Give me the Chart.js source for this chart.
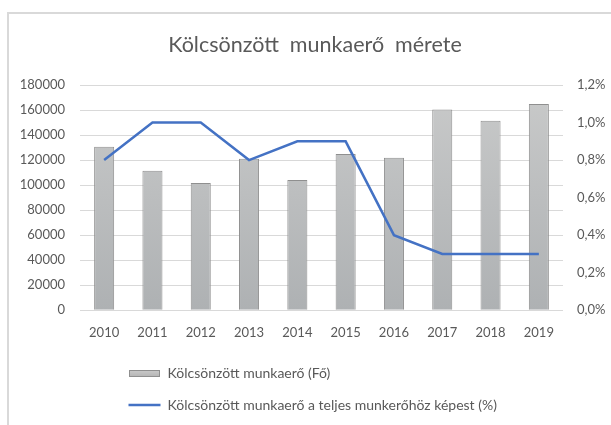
<!DOCTYPE html>
<html>
<head>
<meta charset="utf-8">
<script src="https://cdn.jsdelivr.net/npm/chart.js@4/dist/chart.umd.min.js"></script>
<style>
  body { margin: 0; background: #fff; }
  #wrap { position: relative; width: 611px; height: 425px; overflow: hidden; }
  #frame { position: absolute; left: 7px; top: 12px; width: 700px; height: 500px;
           border-left: 2px solid #d9d9d9; border-top: 2px solid #d9d9d9; }
  #chart { position: absolute; left: 0; top: 0; }
</style>
</head>
<body>
<div id="wrap">
  <div id="frame"></div>
  <canvas id="chart" width="611" height="425"></canvas>
</div>
<script>
// values
var years = ['2010', '2011', '2012', '2013', '2014', '2015', '2016', '2017', '2018', '2019'];
var workers = [130600, 111400, 101600, 121000, 104000, 124800, 121800, 160500, 151400, 164800];
var share = [0.8, 1.0, 1.0, 0.8, 0.9, 0.9, 0.4, 0.3, 0.3, 0.3];

var chartTitle = 'Kölcsönzött  munkaerő  mérete';
var barLabel = 'Kölcsönzött munkaerő (Fő)';
var lineLabel = 'Kölcsönzött munkaerő a teljes munkerőhöz képest (%)';

var textColor = '#595959';
var gridColor = '#d9d9d9';
var lineColor = '#4472c4';

// little gray swatch for the bar legend entry
var swatch = document.createElement('canvas');
swatch.width = 31;
swatch.height = 7;
var sctx = swatch.getContext('2d');
var sg = sctx.createLinearGradient(0, 0, 0, 7);
sg.addColorStop(0, '#cacaca');
sg.addColorStop(1, '#b4b4b4');
sctx.fillStyle = sg;
sctx.fillRect(0, 0, 31, 7);
sctx.strokeStyle = '#8f8f8f';
sctx.lineWidth = 1;
sctx.strokeRect(0.5, 0.5, 30, 6);

function barFill(c) {
  var area = c.chart.chartArea;
  if (!area) return '#bdbfc0';
  var g = c.chart.ctx.createLinearGradient(0, area.top, 0, area.bottom);
  g.addColorStop(0, '#c9caca');
  g.addColorStop(1, '#aeb1b3');
  return g;
}

var titlePlugin = {
  id: 'excelTitle',
  afterLayout: function(chart) {
    // legend rows start under the plot, left aligned
    chart.legend.left = 111;
  },
  afterDraw: function(chart) {
    var ctx = chart.ctx;
    ctx.save();
    ctx.font = '21.5px Lato';
    ctx.fillStyle = textColor;
    ctx.textAlign = 'center';
    ctx.textBaseline = 'alphabetic';
    ctx.fillText(chartTitle, 315, 52);
    ctx.restore();
  }
};

var ctx = document.getElementById('chart').getContext('2d');
var chart = new Chart(ctx, {
  type: 'bar',
  data: {
    labels: years,
    datasets: [{
      type: 'bar',
      label: barLabel,
      data: workers,
      yAxisID: 'y',
      backgroundColor: barFill,
      borderColor: '#8f8f8f',
      borderWidth: 1,
      barPercentage: 0.415,
      categoryPercentage: 1,
      order: 1
    }, {
      type: 'line',
      label: lineLabel,
      data: share,
      yAxisID: 'y1',
      borderColor: lineColor,
      backgroundColor: lineColor,
      borderWidth: 2.5,
      pointRadius: 0,
      tension: 0,
      fill: false,
      order: 0
    }]
  },
  options: {
    responsive: false,
    animation: false,
    layout: { padding: { top: 85, left: 0, right: 0, bottom: 3 } },
    plugins: {
      title: { display: false },
      tooltip: { enabled: false },
      legend: {
        position: 'bottom',
        align: 'start',
        labels: {
          usePointStyle: true,
          pointStyleWidth: 32,
          padding: 17.5,
          color: textColor,
          font: { family: 'Lato', size: 14 },
          generateLabels: function(chart) {
            var items = Chart.defaults.plugins.legend.labels.generateLabels(chart);
            items.sort(function(a, b) { return a.datasetIndex - b.datasetIndex; });
            items[0].pointStyle = swatch;
            items[1].pointStyle = 'line';
            items[1].strokeStyle = lineColor;
            items[1].lineWidth = 2.5;
            return items;
          }
        }
      }
    },
    scales: {
      x: {
        grid: { display: false, drawTicks: false },
        border: { display: false },
        ticks: { color: textColor, font: { family: 'Lato', size: 13 }, padding: 15 },
        afterFit: function(s) { s.height = 38.75; }
      },
      y: {
        position: 'left',
        min: 0,
        max: 180000,
        grid: { color: gridColor, lineWidth: 1, drawTicks: false },
        border: { display: false },
        ticks: {
          stepSize: 20000,
          padding: 15,
          color: textColor,
          font: { family: 'Lato', size: 13 },
          callback: function(v) { return String(v); }
        },
        afterFit: function(s) { s.width = 80; }
      },
      y1: {
        position: 'right',
        min: 0,
        max: 1.2,
        grid: { display: false, drawTicks: false },
        border: { display: false },
        ticks: {
          stepSize: 0.2,
          padding: 14,
          color: textColor,
          font: { family: 'Lato', size: 13 },
          callback: function(v) { return v.toFixed(1).replace('.', ',') + '%'; }
        },
        afterFit: function(s) { s.width = 48; }
      }
    }
  },
  plugins: [titlePlugin]
});
</script>
</body>
</html>
